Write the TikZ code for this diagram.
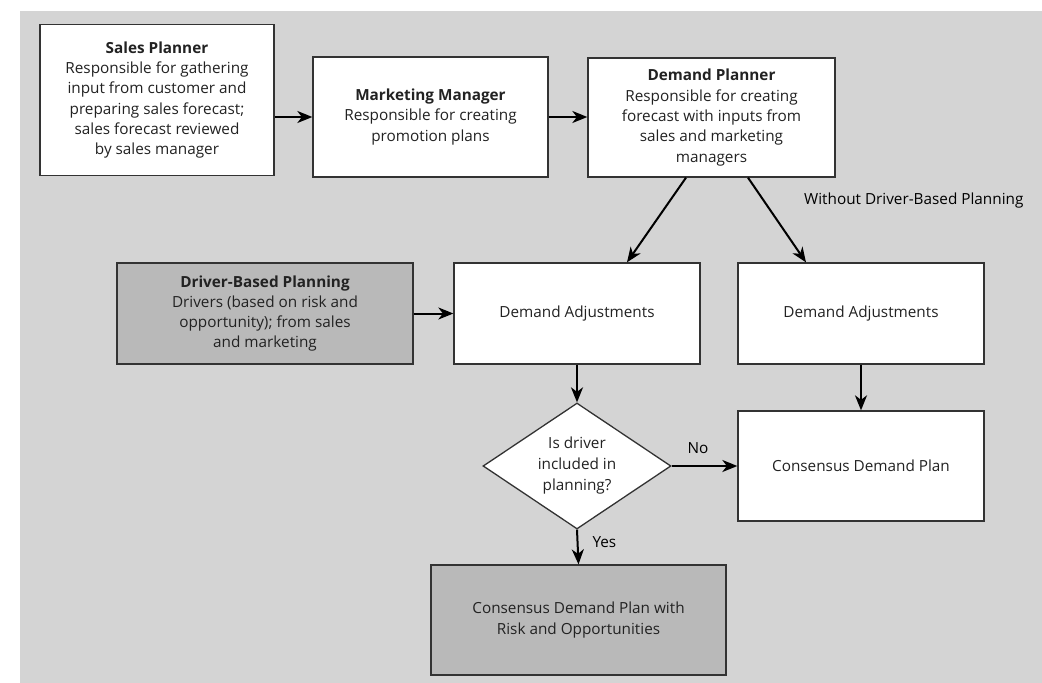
\documentclass[tikz,border=0pt]{standalone}
\usepackage{fontspec}
\setmainfont{Open Sans}
\usetikzlibrary{arrows.meta,shapes.geometric}

\definecolor{canvas}{HTML}{D4D4D4}
\definecolor{shade}{HTML}{B9B9B9}
\definecolor{edge}{HTML}{333333}
\definecolor{ink}{HTML}{222222}

\tikzset{
  box/.style={draw=edge, line width=1.3pt, fill=white, rectangle, inner sep=0pt,
    align=center, text=ink,
    font=\fontsize{15.3}{20.3}\selectfont},
  shadedbox/.style={box, fill=shade},
  decision/.style={draw=edge, line width=1.3pt, fill=white, diamond, inner sep=0pt},
  decisiontext/.style={align=center, text=ink, inner sep=0pt,
    font=\fontsize{15.3}{21}\selectfont},
  flow/.style={line width=2pt, draw=black,
    -{Stealth[length=15pt,width=12pt,inset=4.5pt]}},
  tag/.style={text=black, font=\fontsize{15.3}{18}\selectfont, inner sep=0pt}
}

\begin{document}
\begin{tikzpicture}[x=1pt,y=-1pt]
  \useasboundingbox (0,0) rectangle (1042,683);
  \fill[canvas] (20,11) rectangle (1042,683);

  % top row: planners
  \node[box, minimum width=234pt, minimum height=151pt] (sp) at (157,100)
    {\textbf{Sales Planner}\\Responsible for gathering\\input from customer and\\preparing sales forecast;\\sales forecast reviewed\\by sales manager};
  \node[box, minimum width=235pt, minimum height=120pt] (mm) at (430.5,117)
    {\textbf{Marketing Manager}\\Responsible for creating\\promotion plans};
  \node[box, minimum width=247pt, minimum height=119pt] (dp) at (711.5,117.5)
    {\textbf{Demand Planner}\\Responsible for creating\\forecast with inputs from\\sales and marketing\\managers};

  % middle row: drivers and adjustments
  \node[shadedbox, minimum width=296pt, minimum height=101pt] (dbp) at (265,313.5)
    {\textbf{Driver-Based Planning}\\Drivers (based on risk and\\opportunity); from sales\\and marketing};
  \node[box, minimum width=246pt, minimum height=101pt] (da1) at (577,313.5)
    {Demand Adjustments};
  \node[box, minimum width=246pt, minimum height=101pt] (da2) at (861,313.5)
    {Demand Adjustments};

  % decision and outcomes
  \node[decision, minimum width=188pt, minimum height=126pt,
    label={[decisiontext]center:Is driver\\included in\\planning?}] (dec) at (577,466) {};
  \node[box, minimum width=246pt, minimum height=110pt] (cdp) at (861,466)
    {Consensus Demand Plan};
  \node[shadedbox, minimum width=295pt, minimum height=110pt] (cdpr) at (578.5,620)
    {Consensus Demand Plan with\\Risk and Opportunities};

  \node[tag, anchor=west] (wo) at (804,201) {Without Driver-Based Planning};

  % connectors
  \draw[flow] (sp.east |- mm.west) -- (mm.west);
  \draw[flow] (mm.east) -- (dp.west |- mm.east);
  \draw[flow] ([xshift=-25.5pt]dp.south) -- ([xshift=50pt]da1.north);
  \draw[flow] ([xshift=36.5pt]dp.south) -- ([xshift=-55pt]da2.north);
  \draw[flow] (dbp.east) -- (da1.west);
  \draw[flow] (da1.south) -- (dec.north);
  \draw[flow] (da2.south) -- (cdp.north);
  \draw[flow] (dec.east) -- node[tag, above=11pt, pos=0.4] (no) {No} (cdp.west);
  \draw[flow] (dec.south) -- node[tag, right=14pt, pos=0.35] (yes) {Yes} (cdpr.north);
\end{tikzpicture}
\end{document}
